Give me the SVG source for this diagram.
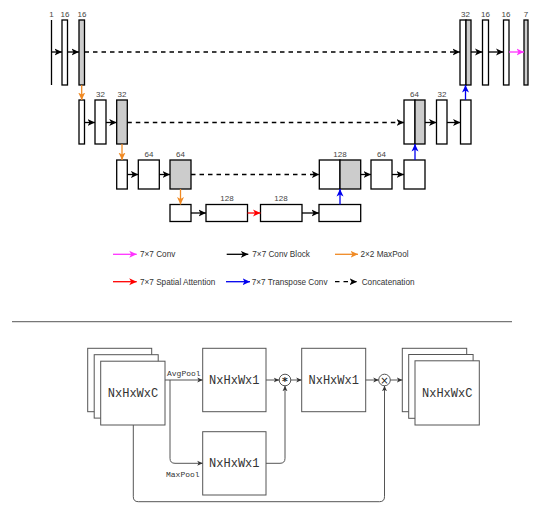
<svg xmlns="http://www.w3.org/2000/svg" width="550" height="514" viewBox="0 0 550 514">
<style>
.b{fill:#fff;stroke:#000;stroke-width:1.3}
.g{fill:#ccc;stroke:#000;stroke-width:1.3}
.n{font-family:"Liberation Sans",Arial,sans-serif;font-size:8px;fill:#444;text-anchor:middle}
.lg{font-family:"Liberation Sans",Arial,sans-serif;font-size:8.2px;fill:#333}
.ak{stroke:#000;stroke-width:1.3;fill:none;marker-end:url(#mk)}
.ad{stroke:#000;stroke-width:1.3;fill:none;stroke-dasharray:4.5 4;marker-end:url(#mk)}
.ao{stroke:#f08a24;stroke-width:1.3;fill:none;marker-end:url(#mo)}
.ab{stroke:#0000ee;stroke-width:1.3;fill:none;marker-end:url(#mb)}
.ar{stroke:#ff0000;stroke-width:1.3;fill:none;marker-end:url(#mr)}
.am{stroke:#ff33ff;stroke-width:1.3;fill:none;marker-end:url(#mm)}
.s{fill:#fff;stroke:#555;stroke-width:1}
.c{stroke:#555;stroke-width:1;fill:none;marker-end:url(#ms)}
.t{font-family:"Liberation Mono","Courier New",monospace;font-size:12px;fill:#333;text-anchor:middle}
.p{font-family:"Liberation Mono","Courier New",monospace;font-size:8px;fill:#333}
</style>
<defs>
<marker id="mk" markerUnits="userSpaceOnUse" markerWidth="8" markerHeight="8" refX="7.5" refY="4" orient="auto"><path d="M0,0.5 L7.5,4 L0,7.5 L2,4 z" fill="#000"/></marker>
<marker id="mo" markerUnits="userSpaceOnUse" markerWidth="8" markerHeight="8" refX="7.5" refY="4" orient="auto"><path d="M0,0.5 L7.5,4 L0,7.5 L2,4 z" fill="#f08a24"/></marker>
<marker id="mb" markerUnits="userSpaceOnUse" markerWidth="8" markerHeight="8" refX="7.5" refY="4" orient="auto"><path d="M0,0.5 L7.5,4 L0,7.5 L2,4 z" fill="#0000ee"/></marker>
<marker id="mr" markerUnits="userSpaceOnUse" markerWidth="8" markerHeight="8" refX="7.5" refY="4" orient="auto"><path d="M0,0.5 L7.5,4 L0,7.5 L2,4 z" fill="#ff0000"/></marker>
<marker id="mm" markerUnits="userSpaceOnUse" markerWidth="8" markerHeight="8" refX="7.5" refY="4" orient="auto"><path d="M0,0.5 L7.5,4 L0,7.5 L2,4 z" fill="#ff33ff"/></marker>
<marker id="ms" markerUnits="userSpaceOnUse" markerWidth="6" markerHeight="6" refX="5.5" refY="3" orient="auto"><path d="M0,0.5 L5.5,3 L0,5.5 L1.5,3 z" fill="#333"/></marker>
</defs>

<!-- Row 1 -->
<g id="r1-in"><line x1="51.5" y1="20" x2="51.5" y2="85" stroke="#000" stroke-width="1.3"/><text class="n" x="51.5" y="17">1</text></g>
<g id="r1-a"><rect class="b" x="62" y="20" width="5.5" height="65"/><text class="n" x="65" y="17">16</text></g>
<g id="r1-b"><rect class="g" x="79" y="20" width="5.5" height="65"/><text class="n" x="82" y="17">16</text></g>
<g id="r1-c"><rect class="b" x="460" y="20" width="6" height="65"/><rect class="g" x="466" y="20" width="5" height="65"/><text class="n" x="465.5" y="17">32</text></g>
<g id="r1-d"><rect class="b" x="482.5" y="20" width="6" height="65"/><text class="n" x="485.5" y="17">16</text></g>
<g id="r1-e"><rect class="b" x="503.5" y="20" width="5.5" height="65"/><text class="n" x="506" y="17">16</text></g>
<g id="r1-out"><rect class="g" x="524" y="20" width="4" height="65"/><text class="n" x="526" y="17">7</text></g>

<!-- Row 2 -->
<g id="r2-a"><rect class="b" x="79" y="100" width="5.5" height="44"/></g>
<g id="r2-b"><rect class="b" x="95" y="100" width="11" height="44"/><text class="n" x="100.5" y="97">32</text></g>
<g id="r2-c"><rect class="g" x="116.7" y="100" width="10.6" height="44"/><text class="n" x="122" y="97">32</text></g>
<g id="r2-d"><rect class="b" x="404" y="100" width="11" height="44"/><rect class="g" x="415" y="100" width="10" height="44"/><text class="n" x="414.5" y="97">64</text></g>
<g id="r2-e"><rect class="b" x="436.5" y="100" width="10.5" height="44"/><text class="n" x="442" y="97">32</text></g>
<g id="r2-f"><rect class="b" x="460.5" y="100" width="10.5" height="44"/></g>

<!-- Row 3 -->
<g id="r3-a"><rect class="b" x="116.7" y="160" width="10.6" height="29"/></g>
<g id="r3-b"><rect class="b" x="138.3" y="160" width="21" height="29"/><text class="n" x="149" y="157">64</text></g>
<g id="r3-c"><rect class="g" x="170" y="160" width="21" height="29"/><text class="n" x="180.5" y="157">64</text></g>
<g id="r3-d"><rect class="b" x="319.3" y="160" width="20.7" height="29"/><rect class="g" x="340" y="160" width="20.7" height="29"/><text class="n" x="340" y="157">128</text></g>
<g id="r3-e"><rect class="b" x="371" y="160" width="21" height="29"/><text class="n" x="381.5" y="157">64</text></g>
<g id="r3-f"><rect class="b" x="404" y="160" width="21" height="29"/></g>

<!-- Row 4 -->
<g id="r4-a"><rect class="b" x="170" y="204.5" width="21" height="17"/></g>
<g id="r4-b"><rect class="b" x="206" y="204.5" width="41.5" height="17"/><text class="n" x="227" y="201">128</text></g>
<g id="r4-c"><rect class="b" x="260.5" y="204.5" width="41.5" height="17"/><text class="n" x="281" y="201">128</text></g>
<g id="r4-d"><rect class="b" x="319" y="204.5" width="41.7" height="17"/></g>

<g id="unet-connectors">
<line class="ak" x1="51.5" y1="52" x2="62" y2="52"/>
<line class="ak" x1="67.5" y1="52" x2="79" y2="52"/>
<line class="ad" x1="84.5" y1="52" x2="460" y2="52"/>
<line class="ak" x1="471" y1="52" x2="482.5" y2="52"/>
<line class="ak" x1="488.5" y1="52" x2="503.5" y2="52"/>
<line class="am" x1="509" y1="52" x2="524" y2="52"/>
<line class="ao" x1="81.7" y1="85" x2="81.7" y2="100"/>
<line class="ab" x1="465.5" y1="100" x2="465.5" y2="85"/>

<line class="ak" x1="84.5" y1="122.5" x2="95" y2="122.5"/>
<line class="ak" x1="106" y1="122.5" x2="116.7" y2="122.5"/>
<line class="ad" x1="127.3" y1="122.5" x2="404" y2="122.5"/>
<line class="ak" x1="425" y1="122.5" x2="436.5" y2="122.5"/>
<line class="ak" x1="447" y1="122.5" x2="460.5" y2="122.5"/>
<line class="ao" x1="122" y1="144" x2="122" y2="160"/>
<line class="ab" x1="415" y1="160" x2="415" y2="144"/>

<line class="ak" x1="127.3" y1="174.5" x2="138.3" y2="174.5"/>
<line class="ak" x1="159.3" y1="174.5" x2="170" y2="174.5"/>
<line class="ad" x1="191" y1="174.5" x2="319.3" y2="174.5"/>
<line class="ak" x1="360.7" y1="174.5" x2="371" y2="174.5"/>
<line class="ak" x1="392" y1="174.5" x2="404" y2="174.5"/>
<line class="ao" x1="180.5" y1="189" x2="180.5" y2="204.5"/>
<line class="ab" x1="340" y1="204.5" x2="340" y2="189"/>

<line class="ak" x1="191" y1="213" x2="206" y2="213"/>
<line class="ar" x1="247.5" y1="213" x2="260.5" y2="213"/>
<line class="ak" x1="302" y1="213" x2="319" y2="213"/>
</g>

<g id="legend">
<line class="am" x1="113" y1="254.3" x2="136.7" y2="254.3"/><text class="lg" x="140" y="257.2">7×7 Conv</text>
<line class="ak" x1="226.7" y1="254.3" x2="248.3" y2="254.3"/><text class="lg" x="252.3" y="257.2">7×7 Conv Block</text>
<line class="ao" x1="335" y1="254.3" x2="358" y2="254.3"/><text class="lg" x="360.5" y="257.2">2×2 MaxPool</text>
<line class="ar" x1="113" y1="281.7" x2="136.7" y2="281.7"/><text class="lg" x="140" y="284.6">7×7 Spatial Attention</text>
<line class="ab" x1="226" y1="281.7" x2="250" y2="281.7"/><text class="lg" x="251.7" y="284.6">7×7 Transpose Conv</text>
<line class="ad" x1="335" y1="281.7" x2="357" y2="281.7"/><text class="lg" x="361.7" y="284.6">Concatenation</text>
</g>

<line id="separator" x1="12" y1="321.7" x2="512" y2="321.7" stroke="#777" stroke-width="1.2"/>

<!-- Spatial attention block -->
<g id="input-stack">
<rect class="s" x="87.7" y="348.3" width="64" height="63.4"/>
<rect class="s" x="94.2" y="354.7" width="64" height="63.4"/>
<rect class="s" x="100.7" y="361.2" width="64.3" height="63.8"/>
<text class="t" x="133" y="397">NxHxWxC</text>
</g>
<g id="avg-box"><rect class="s" x="202.7" y="348.3" width="63.3" height="63.4"/><text class="t" x="234.3" y="384">NxHxWx1</text></g>
<g id="max-box"><rect class="s" x="202.7" y="431.7" width="63.3" height="63.3"/><text class="t" x="234.3" y="467">NxHxWx1</text></g>
<g id="conv-box"><rect class="s" x="301.7" y="348.3" width="64" height="63.4"/><text class="t" x="333.7" y="384">NxHxWx1</text></g>
<g id="concat-op"><circle cx="285" cy="380" r="5.8" fill="#fff" stroke="#555" stroke-width="1"/><text x="285" y="385.2" font-family="'DejaVu Sans',sans-serif" font-size="11" font-weight="bold" fill="#222" text-anchor="middle">*</text></g>
<g id="mul-op"><circle cx="384.5" cy="380" r="5.8" fill="#fff" stroke="#555" stroke-width="1"/><text x="384.5" y="383.6" font-family="'DejaVu Sans',sans-serif" font-size="10" fill="#222" text-anchor="middle">×</text></g>
<g id="output-stack">
<rect class="s" x="402.3" y="348.3" width="64.4" height="63.4"/>
<rect class="s" x="408.7" y="354.5" width="64.4" height="63.8"/>
<rect class="s" x="415" y="360.8" width="64.3" height="64.2"/>
<text class="t" x="447.2" y="397">NxHxWxC</text>
</g>

<g id="sa-connectors">
<line class="c" x1="165" y1="380" x2="202.7" y2="380"/>
<path class="c" d="M170,380 L170,458.3 Q170,463.3 175,463.3 L202.7,463.3"/>
<line class="c" x1="266" y1="380" x2="279.2" y2="380"/>
<path class="c" d="M266,463.3 L280,463.3 Q285,463.3 285,458.3 L285,385.8"/>
<line class="c" x1="290.8" y1="380" x2="301.7" y2="380"/>
<line class="c" x1="365.7" y1="380" x2="378.7" y2="380"/>
<path class="c" d="M133.3,425 L133.3,496.7 Q133.3,501.7 138.3,501.7 L379.5,501.7 Q384.5,501.7 384.5,496.7 L384.5,385.8"/>
<line class="c" x1="390.3" y1="380" x2="402.3" y2="380"/>
<text class="p" x="167" y="375.5">AvgPool</text>
<text class="p" x="166" y="477">MaxPool</text>
</g>
</svg>
